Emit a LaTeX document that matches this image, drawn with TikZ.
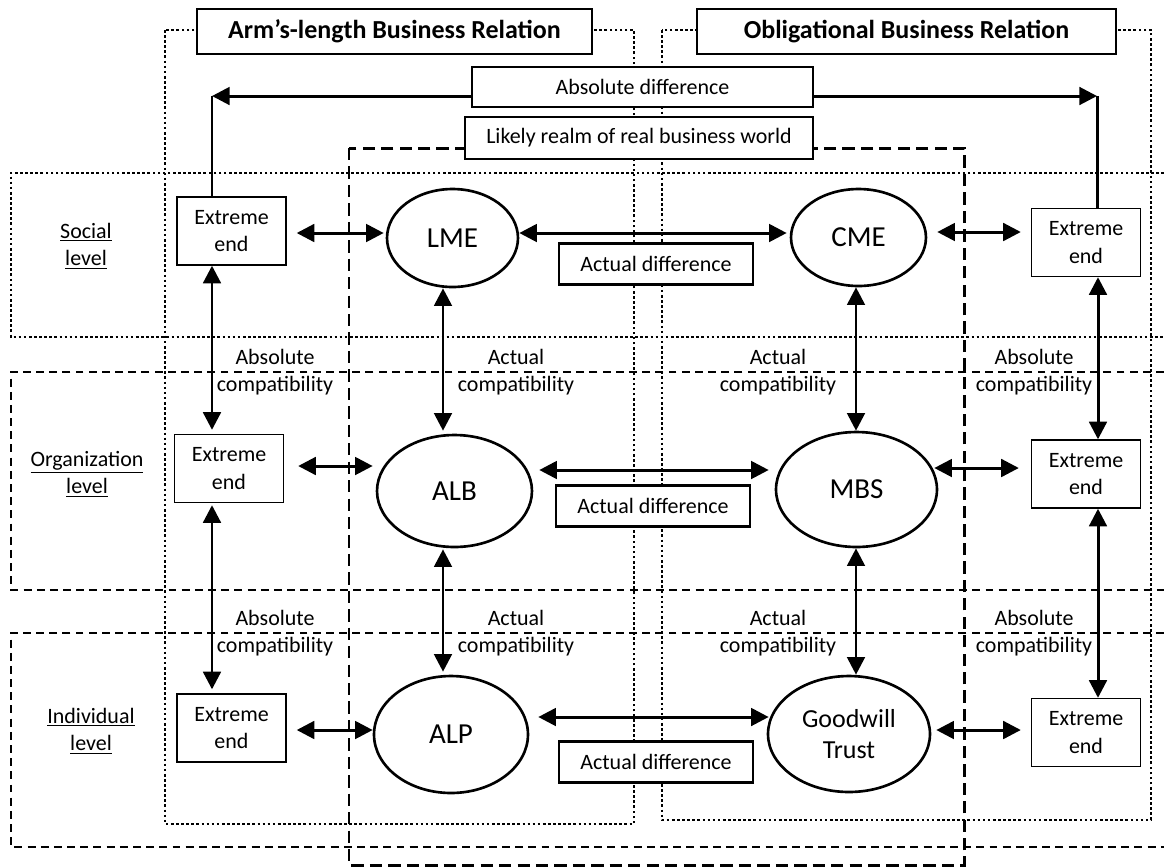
\documentclass[tikz,border=0pt]{standalone}
\usepackage{fontspec}
\setmainfont{Carlito}
\usetikzlibrary{arrows.meta,calc,shapes.geometric}

\tikzset{
  txt/.style={font=\fontsize{12.5}{15.5}\selectfont, align=center},
  extbox/.style={txt, draw, line width=0.8pt, fill=white, minimum width=2.18cm, minimum height=1.36cm, inner sep=0pt},
  diffbox/.style={txt, draw, line width=1.3pt, fill=white, minimum width=3.88cm, minimum height=0.82cm, inner sep=0pt},
  topbox/.style={txt, draw, line width=0.8pt, fill=white, inner sep=0pt},
  titlebox/.style={topbox, font=\fontsize{14.8}{17}\selectfont\bfseries, minimum height=0.9cm},
  oval/.style={ellipse, draw, line width=1.5pt, fill=white, inner sep=0pt, align=center, font=\fontsize{16.5}{19}\selectfont},
  dbl/.style={line width=1.7pt, {Triangle[length=10pt,width=10pt]}-{Triangle[length=10pt,width=10pt]}},
  sgl/.style={line width=1.7pt, -{Triangle[length=10pt,width=10pt]}},
  dotframe/.style={line width=1.5pt, dash pattern=on 1.5pt off 1.4pt},
  lvlframe/.style={line width=0.6pt, dash pattern=on 4.5pt off 3pt},
  realmframe/.style={line width=1.7pt, dash pattern=on 7pt off 3.5pt},
}

\begin{document}
\begin{tikzpicture}[x=0.02cm, y=-0.02cm]
        \useasboundingbox (0,0) rectangle (1164,867);

        % level frames
        \draw[dotframe] (1164,173) -- (11,173) -- (11,337) -- (1164,337);
        \draw[lvlframe] (1164,372) -- (11,372) -- (11,590) -- (1164,590);
        \draw[lvlframe] (1164,633) -- (11,633) -- (11,847) -- (1164,847);

        % relation frames
        \draw[realmframe] (349,148) rectangle (964,865);
        \draw[dotframe] (165,30) rectangle (634,824);
        \draw[dotframe] (662,30) rectangle (1151,820);

        % headings
        \node[titlebox, minimum width=7.9cm] (armT) at (394.5,31.5) {Arm’s-length Business Relation};
        \node[titlebox, minimum width=8.38cm] (oblT) at (906.5,31.5) {Obligational Business Relation};
        \node[topbox, minimum width=6.82cm, minimum height=0.8cm] (absdiff) at (642.5,87) {Absolute difference};
        \node[topbox, minimum width=6.96cm, minimum height=0.84cm] (realm) at (639,138) {Likely realm of real business world};

        % level names
        \node[txt] (socL) at (86,246) {\underline{Social}\\\underline{level}};
        \node[txt] (orgL) at (87,474) {\underline{Organization}\\\underline{level}};
        \node[txt] (indL) at (91,731) {\underline{Individual}\\\underline{level}};

        % extreme ends
        \node[extbox] (Ls) at (231.5,231) {Extreme\\end};
        \node[extbox] (Lo) at (229,468.5) {Extreme\\end};
        \node[extbox] (Li) at (231.5,728) {Extreme\\end};
        \node[extbox] (Rs) at (1086,242.5) {Extreme\\end};
        \node[extbox] (Ro) at (1086,474) {Extreme\\end};
        \node[extbox] (Ri) at (1086,732.5) {Extreme\\end};

        % institutions
        \node[oval, minimum width=2.62cm, minimum height=1.96cm] (LME) at (452.5,238) {LME};
        \node[oval, minimum width=2.7cm, minimum height=1.94cm] (CME) at (858.5,237.5) {CME};
        \node[oval, minimum width=3.1cm, minimum height=2.24cm] (ALB) at (454.5,491) {ALB};
        \node[oval, minimum width=3.22cm, minimum height=2.3cm] (MBS) at (856.5,489.5) {MBS};
        \node[oval, minimum width=3.08cm, minimum height=2.34cm] (ALP) at (451,734.5) {ALP};
        \node[oval, minimum width=3.24cm, minimum height=2.32cm, font=\fontsize{14.8}{17.5}\selectfont] (GT) at (849,734) {Goodwill\\Trust};

        % actual difference
        \node[diffbox] (dS) at (656,264) {Actual difference};
        \node[diffbox] (dO) at (653,506) {Actual difference};
        \node[diffbox] (dI) at (656,762) {Actual difference};

        % compatibility
        \node[txt] (cAbsL1) at (275,372) {Absolute\\compatibility};
        \node[txt] (cActL1) at (516,372) {Actual\\compatibility};
        \node[txt] (cActR1) at (778,372) {Actual\\compatibility};
        \node[txt] (cAbsR1) at (1034,372) {Absolute\\compatibility};
        \node[txt] (cAbsL2) at (275,633) {Absolute\\compatibility};
        \node[txt] (cActL2) at (516,633) {Actual\\compatibility};
        \node[txt] (cActR2) at (778,633) {Actual\\compatibility};
        \node[txt] (cAbsR2) at (1034,633) {Absolute\\compatibility};

        % absolute difference
        \coordinate (adL) at (212,96);
        \coordinate (adR) at (1097,96);
        \draw[sgl] ($(absdiff.west)+(0,9)$) -- (adL);
        \draw[line width=1.7pt] (adL) -- ($(Ls.north)+(-19.5,0)$);
        \draw[sgl] ($(absdiff.east)+(0,9)$) -- (adR);
        \draw[line width=1.7pt] (adR) -- ($(Rs.north)+(11,0)$);

        % horizontal arrows
        \draw[dbl] ($(Ls.east)+(10,2)$) -- ($(LME.west)+(-2,-5)$);
        \draw[dbl] ($(Lo.east)+(14,-2.5)$) -- ($(ALB.west)+(-3,-25)$);
        \draw[dbl] ($(Li.east)+(10,2)$) -- ($(ALP.west)+(0,-4.5)$);
        \draw[dbl] ($(LME.east)+(0,-5)$) -- ($(CME.west)+(-3,-4.5)$);
        \draw[dbl] ($(ALB.east)+(6,-21)$) -- ($(MBS.west)+(-6,-19.5)$);
        \draw[dbl] ($(ALP.east)+(9,-17.5)$) -- ($(GT.west)+(2,-17)$);
        \draw[dbl] ($(CME.east)+(10,-5.5)$) -- ($(Rs.west)+(-10,-10.5)$);
        \draw[dbl] ($(MBS.east)+(-4,-21.5)$) -- ($(Ro.west)+(-12,-6)$);
        \draw[dbl] ($(GT.east)+(5,-4)$) -- ($(Ri.west)+(-10,-2.5)$);

        % vertical arrows
        \draw[dbl] ($(Ls.south)+(-19.5,0)$) -- ($(Lo.north)+(-17,-4)$);
        \draw[dbl] ($(Lo.south)+(-17,2)$) -- ($(Li.north)+(-19.5,-4)$);
        \draw[dbl] ($(LME.south)+(-9.5,0)$) -- ($(ALB.north)+(-11.5,-3)$);
        \draw[dbl] ($(ALB.south)+(-11.5,1)$) -- ($(ALP.north)+(-8,-3)$);
        \draw[dbl] ($(CME.south)+(-2.5,0)$) -- ($(MBS.north)+(-0.5,0)$);
        \draw[dbl] ($(MBS.south)+(-0.5,0)$) -- ($(GT.north)+(7,0)$);
        \draw[dbl] ($(Rs.south)+(12,0)$) -- ($(Ro.north)+(12,0)$);
        \draw[dbl] ($(Ro.south)+(12,0)$) -- ($(Ri.north)+(12,0)$);
\end{tikzpicture}
\end{document}
